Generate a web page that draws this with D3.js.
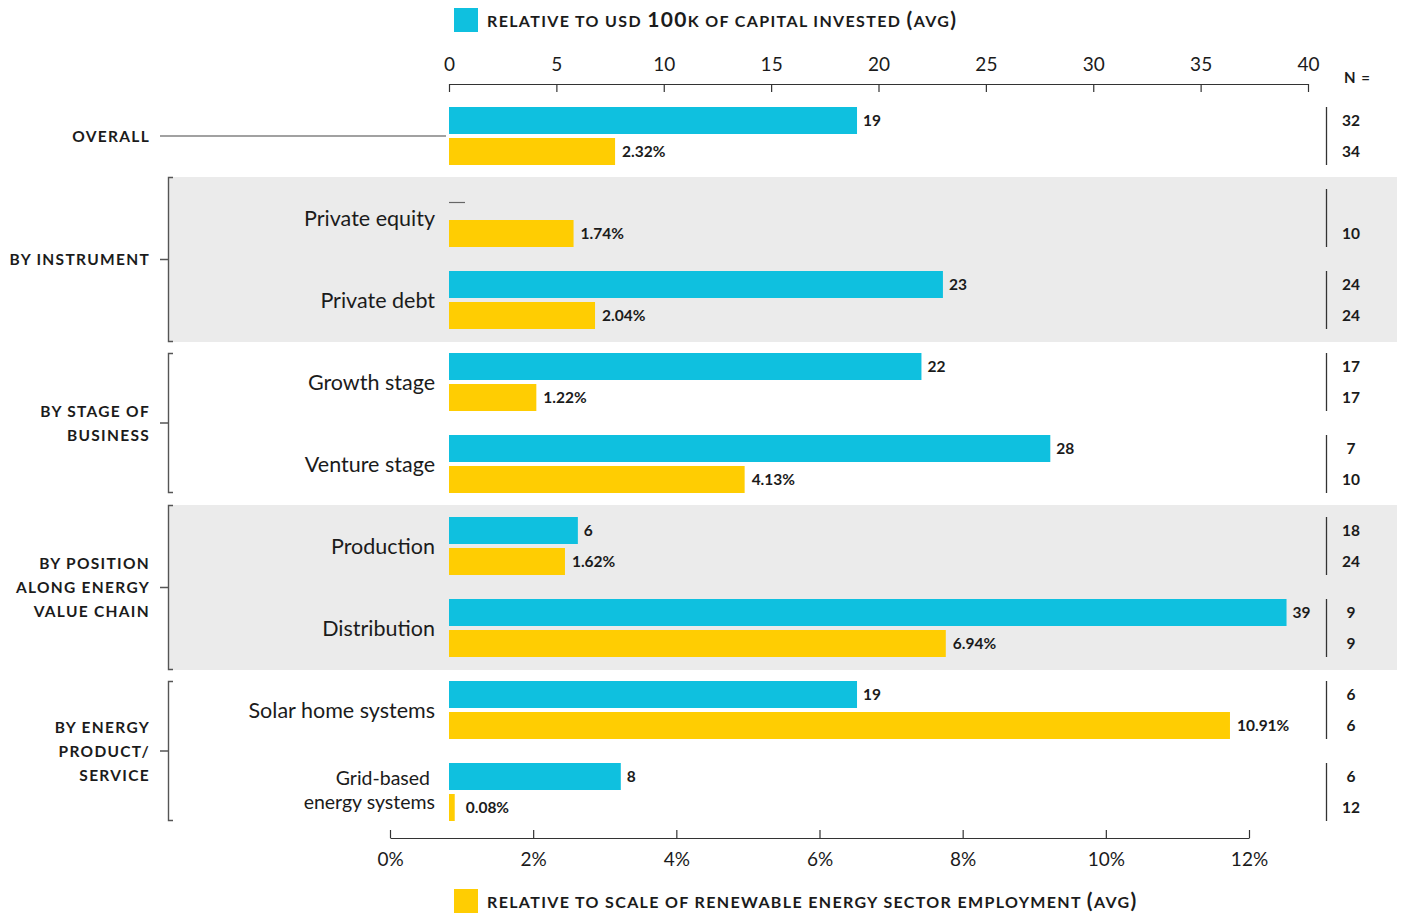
<!DOCTYPE html>
<html>
<head>
<meta charset="utf-8">
<script src="https://cdn.jsdelivr.net/npm/d3@7/dist/d3.min.js"></script>
<style>
  html, body { margin: 0; padding: 0; background: #fff; }
  svg { display: block; font-family: Lato, "Noto Sans", sans-serif; }
</style>
</head>
<body>
<svg id="chart" width="1403" height="913"></svg>
<script>
// ---------- DATA ----------
const categories = ["Overall", "Private equity", "Private debt", "Growth stage", "Venture stage",
  "Production", "Distribution", "Solar home systems", "Grid-based energy systems"];
const itemLabels = [[""], ["Private equity"], ["Private debt"], ["Growth stage"], ["Venture stage"],
  ["Production"], ["Distribution"], ["Solar home systems"], ["Grid-based ", "energy systems"]];
const capitalValues = [19, null, 23, 22, 28, 6, 39, 19, 8];           // per USD 100k invested
const employmentValues = [2.32, 1.74, 2.04, 1.22, 4.13, 1.62, 6.94, 10.91, 0.08]; // % of sector employment
const nCapital = [32, null, 24, 17, 7, 18, 9, 6, 6];
const nEmployment = [34, 10, 24, 17, 10, 24, 9, 6, 12];

const groupLabels = [["OVERALL"], ["BY INSTRUMENT"], ["BY STAGE OF", "BUSINESS"],
  ["BY POSITION", "ALONG ENERGY", "VALUE CHAIN"], ["BY ENERGY", "PRODUCT/", "SERVICE"]];
const groupFirst = [0, 1, 3, 5, 7];
const groupLast = [0, 2, 4, 6, 8];
const groupShaded = [false, true, false, true, false];

const topTicks = [0, 5, 10, 15, 20, 25, 30, 35, 40];
const bottomTicks = [0, 2, 4, 6, 8, 10, 12];

const legendTop = "Relative to USD 100k of capital invested (avg)";
const legendBottom = "Relative to scale of renewable energy sector employment (avg)";

// ---------- STYLE ----------
const BLUE = "#0fc0df", YELLOW = "#ffcd02", GRAY_BAND = "#ebebeb", INK = "#1b1b1b", LINE = "#555";
const barH = 27, barGap = 31;

const svg = d3.select("#chart");

const x = d3.scaleLinear().domain([0, 40]).range([449, 1308]);
const xb = d3.scaleLinear().domain([0, 12]).range([390, 1249]);
const y = d3.scaleBand().domain(categories).range([107, 107 + 82 * categories.length]).paddingInner(0).paddingOuter(0);
const barStart = x(0);

// ---------- GROUP BANDS & BRACKETS ----------
groupLabels.forEach((lab, g) => {
  const first = categories[groupFirst[g]], last = categories[groupLast[g]];
  let top = y(first), bot = y(last) + barGap + barH;
  if (groupShaded[g]) {
    top = top - 12; bot = bot + 13;
    svg.append("rect").attr("x", 168).attr("y", top).attr("width", 1397 - 168).attr("height", bot - top)
      .attr("fill", GRAY_BAND);
  }
  const mid = (top + bot) / 2;
  if (g === 0) {
    svg.append("line").attr("x1", 160).attr("x2", 446).attr("y1", mid).attr("y2", mid)
      .attr("stroke", "#444").attr("stroke-width", 1.2);
  } else {
    svg.append("path")
      .attr("d", `M173,${top + 0.5}H168.5V${bot - 0.5}H173 M160,${mid}H168.5`)
      .attr("fill", "none").attr("stroke", LINE).attr("stroke-width", 1.4);
  }
  const lh = 24;
  const t = svg.append("text").attr("text-anchor", "end").attr("fill", INK)
    .attr("font-size", 15.5).attr("font-weight", 700).attr("letter-spacing", 1.3);
  lab.forEach((line, i) => {
    t.append("tspan").attr("x", 150)
      .attr("y", mid + 5.5 + (i - (lab.length - 1) / 2) * lh)
      .text(line);
  });
});

// ---------- TOP AXIS ----------
const axTop = svg.append("g").attr("transform", "translate(0,84)")
  .call(d3.axisTop(x).tickValues(topTicks).tickSizeInner(-8).tickSizeOuter(0).tickPadding(13));
axTop.select(".domain").attr("stroke", "#333").attr("stroke-width", 1.2);
axTop.selectAll(".tick line").attr("stroke", "#333").attr("stroke-width", 1.2);
axTop.selectAll("text").attr("font-size", 19).attr("fill", INK).attr("font-family", "Lato, sans-serif");

// ---------- BOTTOM AXIS ----------
const axBot = svg.append("g").attr("transform", "translate(0,838)")
  .call(d3.axisBottom(xb).tickValues(bottomTicks).tickFormat(d => d + "%").tickSizeInner(-8).tickSizeOuter(0).tickPadding(15));
axBot.select(".domain").attr("stroke", "#333").attr("stroke-width", 1.2);
axBot.selectAll(".tick line").attr("stroke", "#333").attr("stroke-width", 1.2);
axBot.selectAll("text").attr("font-size", 19).attr("fill", INK).attr("font-family", "Lato, sans-serif");

// ---------- BARS ----------
const rows = categories.map((c, i) => ({ c, i, cap: capitalValues[i], emp: employmentValues[i] }));

svg.append("g").selectAll("rect").data(rows.filter(d => d.cap !== null)).join("rect")
  .attr("x", barStart).attr("y", d => y(d.c)).attr("height", barH)
  .attr("width", d => x(d.cap) - x(0)).attr("fill", BLUE);

// missing value marker
rows.filter(d => d.cap === null).forEach(d => {
  svg.append("line").attr("x1", barStart).attr("x2", barStart + 16)
    .attr("y1", y(d.c) + 13.5).attr("y2", y(d.c) + 13.5).attr("stroke", "#666").attr("stroke-width", 1.2);
});

svg.append("g").selectAll("rect").data(rows).join("rect")
  .attr("x", barStart).attr("y", d => y(d.c) + barGap).attr("height", barH)
  .attr("width", d => xb(d.emp) - xb(0)).attr("fill", YELLOW);

// value labels
svg.append("g").selectAll("text").data(rows.filter(d => d.cap !== null)).join("text")
  .attr("x", d => barStart + x(d.cap) - x(0) + 6).attr("y", d => y(d.c) + barH / 2 + 5.5)
  .attr("font-size", 15.5).attr("font-weight", 700).attr("fill", INK).text(d => d.cap);

svg.append("g").selectAll("text").data(rows).join("text")
  .attr("x", d => barStart + xb(d.emp) - xb(0) + (d.emp < 0.5 ? 11 : 7)).attr("y", d => y(d.c) + barGap + barH / 2 + 5.5)
  .attr("font-size", 15.5).attr("font-weight", 700).attr("fill", INK).text(d => d.emp.toFixed(2) + "%");

// item labels
rows.forEach(d => {
  const lines = itemLabels[d.i];
  if (!lines[0]) return;
  const center = y(d.c) + (barGap + barH) / 2;
  const t = svg.append("text").attr("text-anchor", "end").attr("fill", INK)
    .attr("font-size", 21.5).attr("font-weight", 400);
  if (lines.length === 1) {
    t.append("tspan").attr("x", 435).attr("y", center + 8).text(lines[0]);
  } else {
    t.attr("font-size", 19.5);
    t.append("tspan").attr("x", 435).attr("y", center - 7).attr("xml:space", "preserve").style("white-space", "pre").text(lines[0]);
    t.append("tspan").attr("x", 435).attr("y", center + 17).text(lines[1]);
  }
});

// ---------- N COLUMN ----------
svg.append("text").attr("x", 1344).attr("y", 83).attr("font-size", 15).attr("font-weight", 700)
  .attr("fill", INK).attr("letter-spacing", 1).text("N =");
rows.forEach(d => {
  svg.append("line").attr("x1", 1326.5).attr("x2", 1326.5)
    .attr("y1", y(d.c)).attr("y2", y(d.c) + barGap + barH)
    .attr("stroke", "#333").attr("stroke-width", 1.3);
  if (nCapital[d.i] !== null) {
    svg.append("text").attr("x", 1351).attr("y", y(d.c) + barH / 2 + 5.5).attr("text-anchor", "middle")
      .attr("font-size", 15.5).attr("font-weight", 700).attr("fill", INK).text(nCapital[d.i]);
  }
  svg.append("text").attr("x", 1351).attr("y", y(d.c) + barGap + barH / 2 + 5.5).attr("text-anchor", "middle")
    .attr("font-size", 15.5).attr("font-weight", 700).attr("fill", INK).text(nEmployment[d.i]);
});

// ---------- LEGENDS ----------
function smallCapsLegend(sel, str) {
  // small-caps look: letters & spaces small uppercase, digits & parentheses full size
  const parts = [];
  for (const ch of str) {
    const small = !/[0-9()]/.test(ch);
    const last = parts[parts.length - 1];
    if (last && last.small === small) last.t += ch; else parts.push({ small, t: ch });
  }
  parts.forEach(p => {
    sel.append("tspan").attr("font-size", p.small ? 16 : 21).text(p.t.toUpperCase());
  });
}
[[legendTop, BLUE, 8, 1.35], [legendBottom, YELLOW, 889, 1.35]].forEach(([txt, col, yy, ls]) => {
  svg.append("rect").attr("x", 454).attr("y", yy).attr("width", 24).attr("height", 24).attr("fill", col);
  const t = svg.append("text").attr("x", 487).attr("y", yy + 19).attr("fill", INK)
    .attr("font-weight", 700).attr("letter-spacing", ls).attr("xml:space", "preserve").style("white-space", "pre");
  smallCapsLegend(t, txt);
});
</script>
</body>
</html>
